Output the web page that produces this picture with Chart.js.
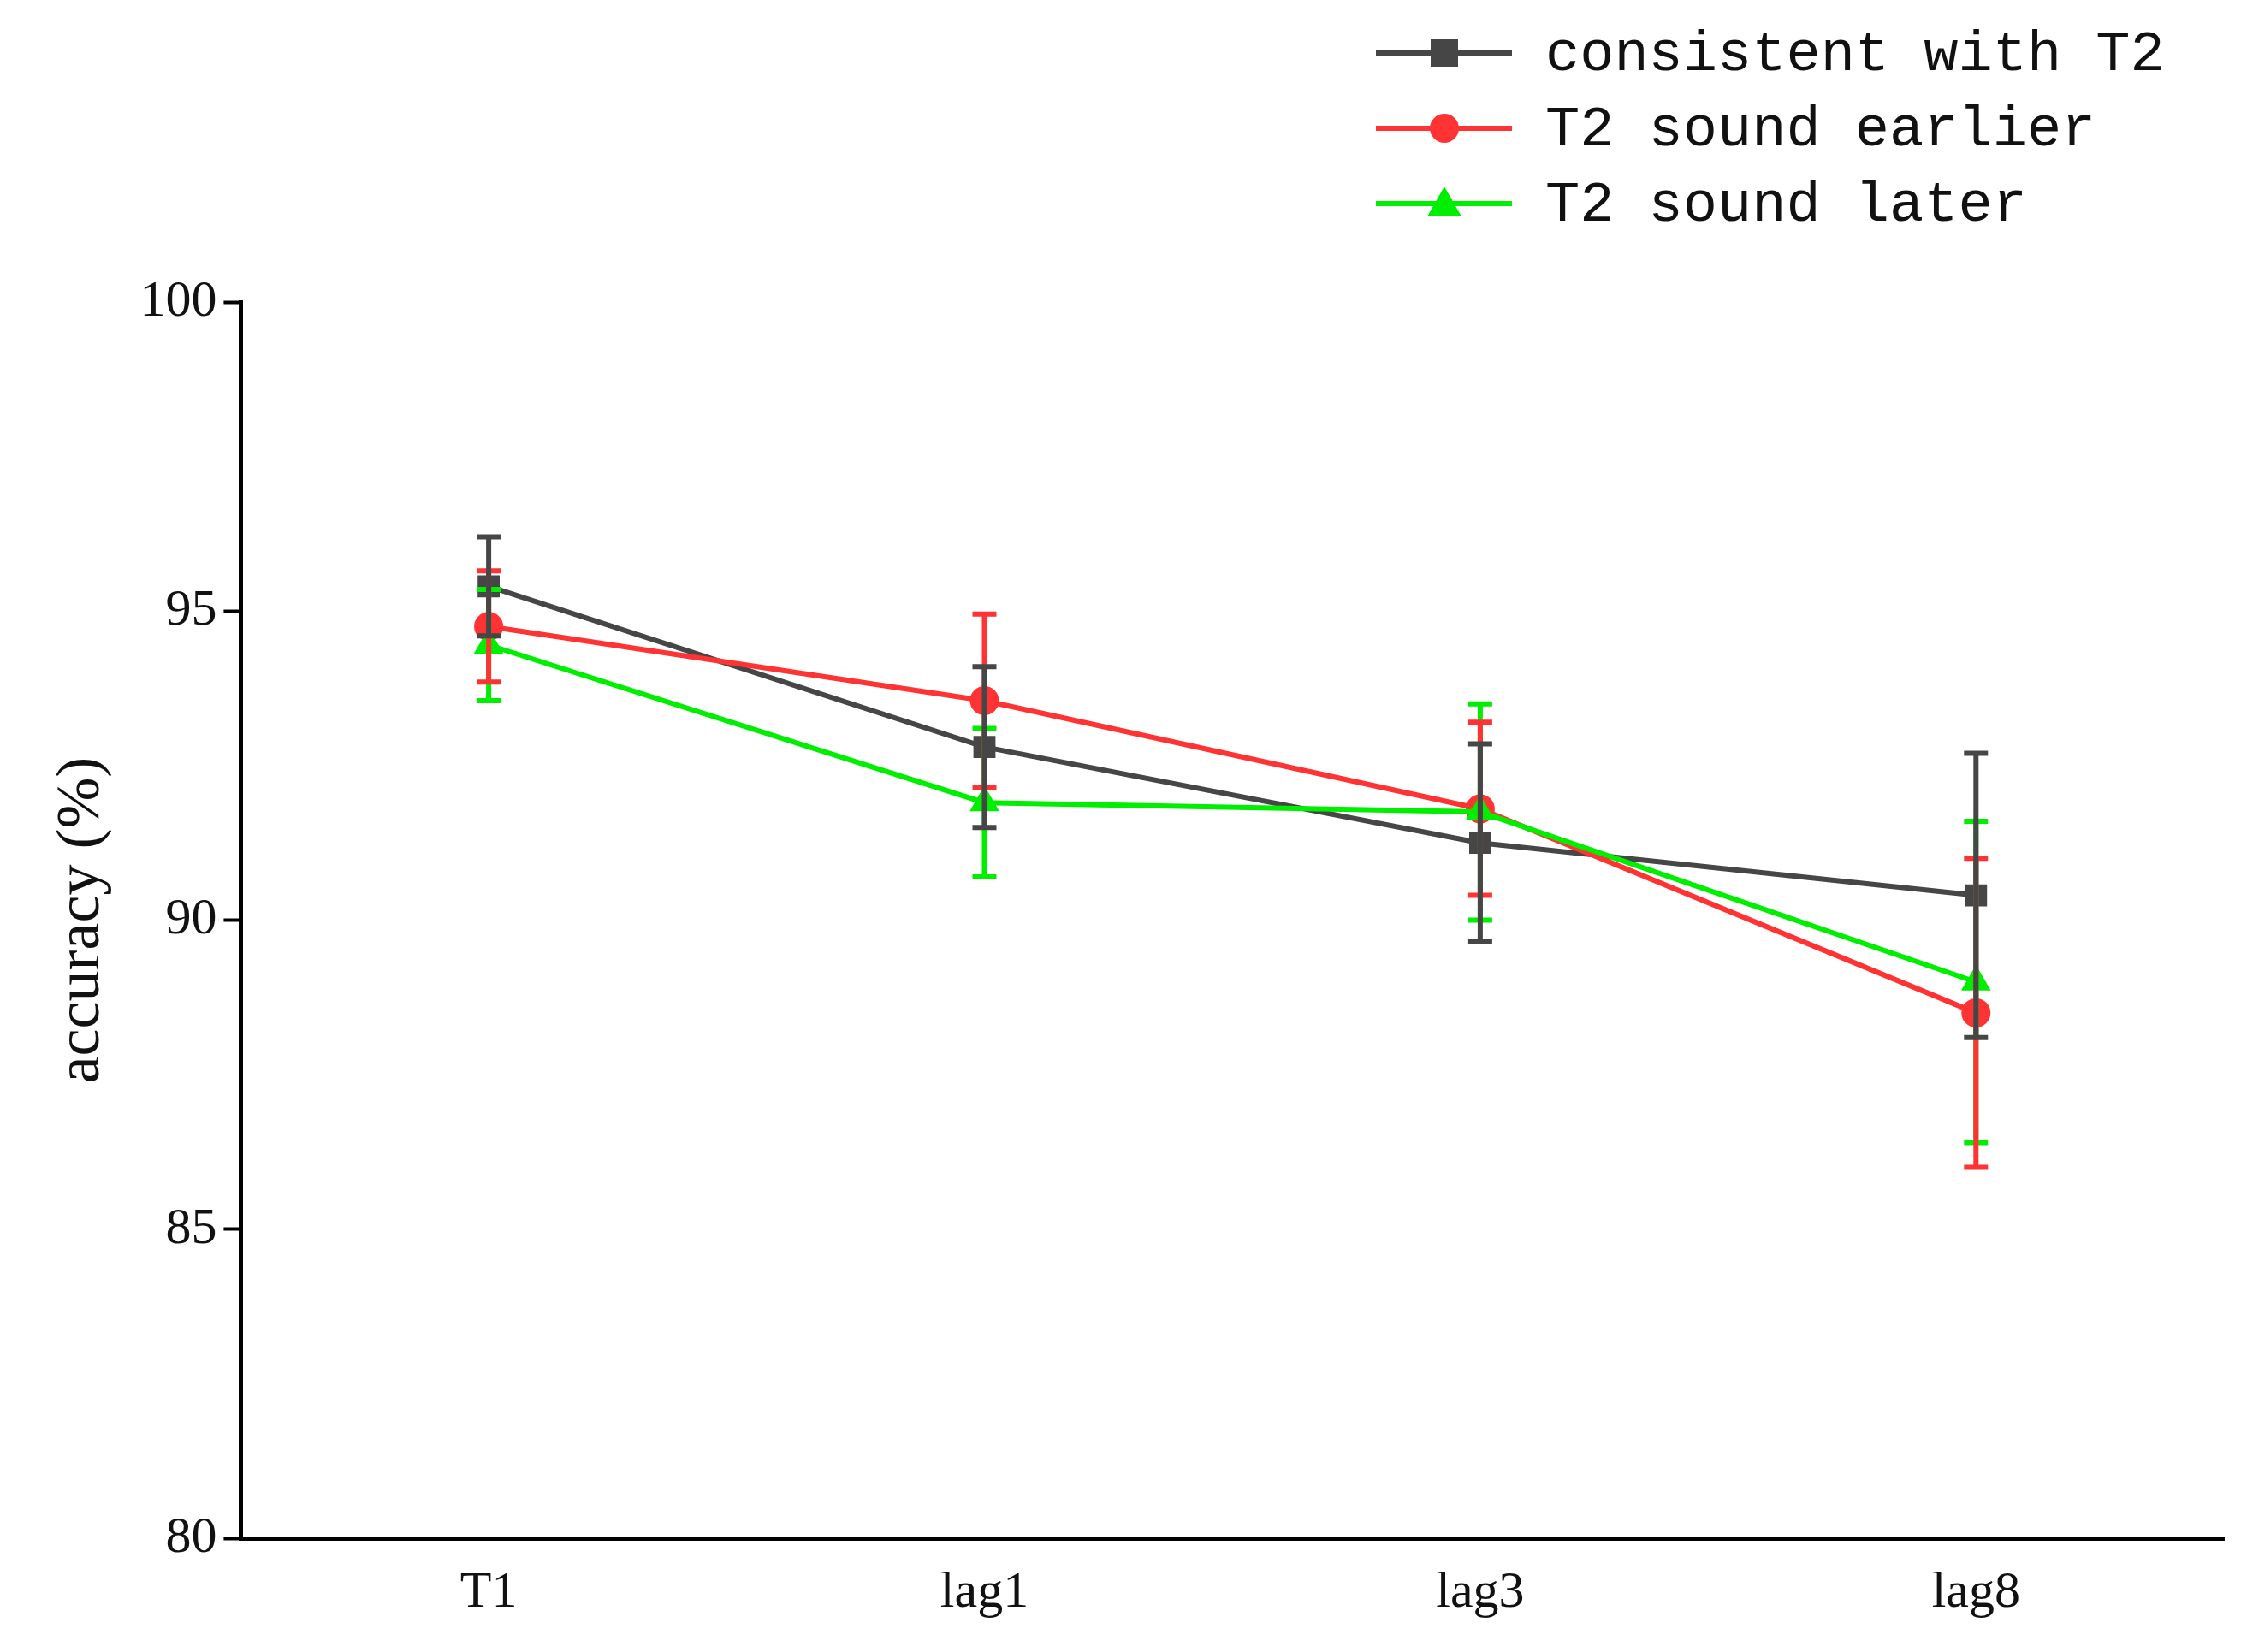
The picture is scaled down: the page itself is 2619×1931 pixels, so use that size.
<!DOCTYPE html>
<html><head><meta charset="utf-8">
<script src="https://cdn.jsdelivr.net/npm/chart.js@4"></script>
<style>html,body{margin:0;background:#fff}</style>
</head><body>
<canvas id="c" width="2619" height="1931"></canvas>
<script>
const categories = ["T1","lag1","lag3","lag8"];
const seriesNames = ["consistent with T2","T2 sound earlier","T2 sound later"];
const consistentMean = [95.4, 92.8, 91.25, 90.4];
const consistentErr  = [0.8, 1.3, 1.6, 2.3];
const earlierMean = [94.75, 93.55, 91.8, 88.5];
const earlierErr  = [0.9, 1.4, 1.4, 2.5];
const laterMean = [94.45, 91.9, 91.75, 89.0];
const laterErr  = [0.9, 1.2, 1.75, 2.6];
const yTicks = [80, 85, 90, 95, 100];
const colors = ["#464646", "#ff3333", "#00ee00"];
const shapes = ["rect", "circle", "triangle"];
const means = [consistentMean, earlierMean, laterMean];
const errs = [consistentErr, earlierErr, laterErr];

const errPlugin = {
  id: 'err',
  afterDatasetsDraw(chart) {
    const ctx = chart.ctx, xs = chart.scales.x, ys = chart.scales.y;
    [2,1,0].forEach(d => {
      ctx.save(); ctx.strokeStyle = colors[d]; ctx.lineWidth = 6;
      means[d].forEach((m, i) => {
        const x = xs.getPixelForValue(i);
        const t = ys.getPixelForValue(m + errs[d][i]), b = ys.getPixelForValue(m - errs[d][i]);
        ctx.beginPath();
        ctx.moveTo(x, t); ctx.lineTo(x, b);
        ctx.moveTo(x-14, t); ctx.lineTo(x+14, t);
        ctx.moveTo(x-14, b); ctx.lineTo(x+14, b);
        ctx.stroke();
      });
      ctx.restore();
    });
  },
  afterDraw(chart) {
    const ctx = chart.ctx;
    ctx.save();
    chart.data.datasets.forEach((ds, d) => {
      const y = 62 + d*88;
      ctx.strokeStyle = colors[d]; ctx.lineWidth = 6;
      ctx.beginPath(); ctx.moveTo(1608, y); ctx.lineTo(1767, y); ctx.stroke();
      ctx.fillStyle = colors[d];
      const cx = 1688;
      ctx.beginPath();
      if (shapes[d] === 'rect') ctx.rect(cx-16, y-16, 32, 32);
      else if (shapes[d] === 'circle') ctx.arc(cx, y, 17, 0, Math.PI*2);
      else { ctx.moveTo(cx, y-20); ctx.lineTo(cx+20, y+15); ctx.lineTo(cx-20, y+15); ctx.closePath(); }
      ctx.fill();
      ctx.fillStyle = '#111'; ctx.font = '67px "Liberation Mono"';
      ctx.textBaseline = 'middle';
      ctx.fillText(ds.label, 1806, y + 2);
    });
    ctx.restore();
  }
};

new Chart(document.getElementById('c'), {
  type: 'line',
  data: {
    labels: categories,
    datasets: seriesNames.map((n, d) => ({
      label: n, data: means[d], borderColor: colors[d], backgroundColor: colors[d],
      borderWidth: 6, pointStyle: shapes[d], pointRadius: 14, pointHoverRadius: 14,
      tension: 0, order: 2 - d
    }))
  },
  options: {
    responsive: false, devicePixelRatio: 1, animation: false,
    layout: { padding: { top: 353, right: 20, left: 37, bottom: 25 } },
    plugins: { legend: { display: false }, tooltip: { enabled: false } },
    scales: {
      x: {
        offset: true,
        grid: { display: false, drawOnChartArea: false, tickLength: 20, tickWidth: 4, tickColor: '#000', offset: false },
        border: { color: '#000', width: 5 },
        ticks: { color: '#111', font: { family: 'Liberation Serif', size: 60 }, padding: 8 }
      },
      y: {
        min: 80, max: 100,
        afterBuildTicks(s) { s.ticks = yTicks.map(v => ({ value: v })); },
        grid: { drawOnChartArea: false, tickLength: 20, tickWidth: 4, tickColor: '#000' },
        border: { color: '#000', width: 5 },
        ticks: { color: '#111', font: { family: 'Liberation Serif', size: 60 }, padding: 8 },
        title: { display: true, text: 'accuracy (%)', color: '#111', font: { family: 'Liberation Serif', size: 72 }, padding: 16 }
      }
    }
  },
  plugins: [errPlugin]
});
</script>
</body></html>
